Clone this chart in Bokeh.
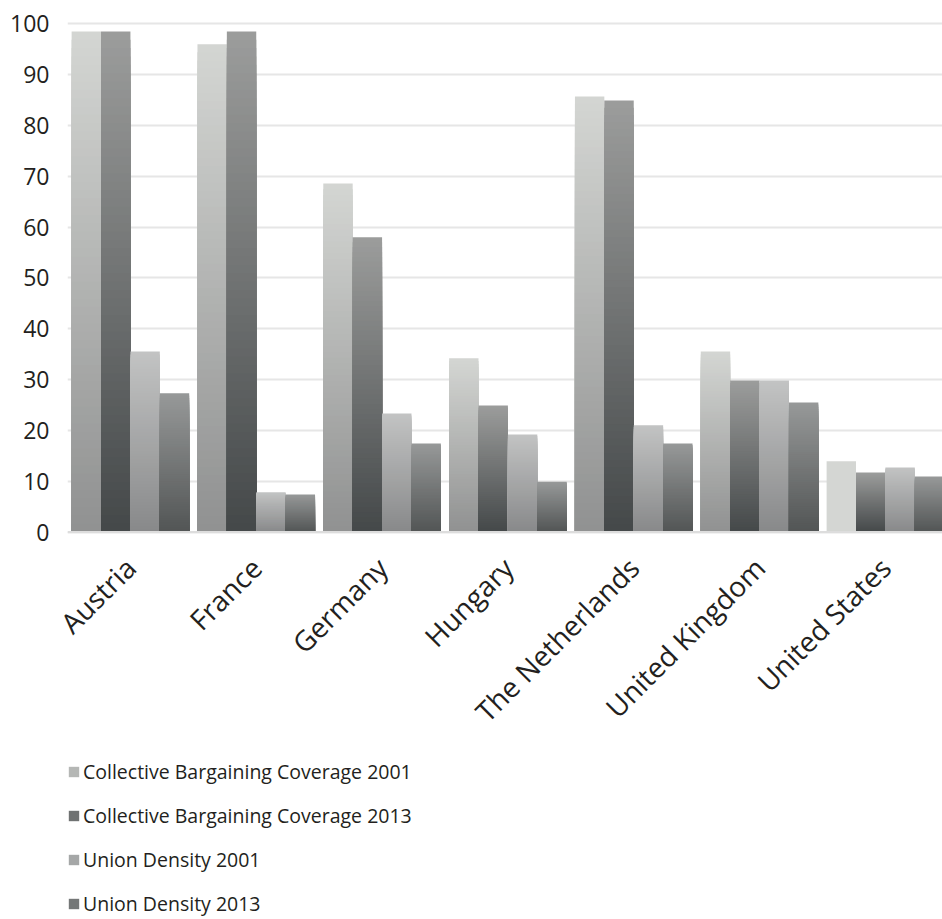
import numpy as np
from bokeh.plotting import figure
from bokeh.layouts import column
from bokeh.models import ColumnDataSource, FixedTicker, Range1d, Span, Legend, LegendItem
from bokeh.embed import file_html
from bokeh.resources import INLINE

# ---------------- data ----------------
countries = ["Austria", "France", "Germany", "Hungary", "The Netherlands",
             "United Kingdom", "United States"]
series_names = ["Collective Bargaining Coverage 2001",
                "Collective Bargaining Coverage 2013",
                "Union Density 2001",
                "Union Density 2013"]
cbc_2001 = [98.5, 96.0, 68.6, 34.2, 85.7, 35.5, 13.9]
cbc_2013 = [98.5, 98.5, 58.0, 24.9, 84.9, 29.8, 11.7]
ud_2001 = [35.5, 7.8, 23.3, 19.2, 21.0, 29.8, 12.7]
ud_2013 = [27.3, 7.4, 17.4, 9.9, 17.4, 25.5, 10.9]
y_ticks = [0, 10, 20, 30, 40, 50, 60, 70, 80, 90, 100]

series_values = [cbc_2001, cbc_2013, ud_2001, ud_2013]

# ---------------- style ----------------
top_colors = [(212, 214, 211), (156, 157, 156), (194, 195, 195), (151, 153, 153)]
bottom_colors = [(144, 145, 145), (68, 72, 73), (136, 137, 138), (82, 85, 85)]
flat_bars = {(0, "United States"): "#d4d6d3"}
legend_colors = ["#b5b7b5", "#6f7272", "#a5a7a7", "#747777"]

FONT = "Open Sans"
TXT = "#231f20"
N = 60
bar_w = 0.2336
offsets = [-1.5 * bar_w, -0.5 * bar_w, 0.5 * bar_w, 1.5 * bar_w]

x_left = -0.5
x_right = x_left + 875 / 125.83

TOP_H = 745
p = figure(width=942, height=TOP_H, output_backend="svg", toolbar_location=None,
           x_range=Range1d(x_left, x_right), y_range=Range1d(-0.49, 100.65),
           min_border_left=67, min_border_right=0, min_border_top=20,
           min_border_bottom=TOP_H - 534)
p.outline_line_color = None
p.background_fill_color = "white"
p.border_fill_color = "white"
p.xgrid.grid_line_color = None
p.ygrid.grid_line_color = "#e6e6e6"
p.ygrid.grid_line_width = 2
p.ygrid.ticker = FixedTicker(ticks=y_ticks)


def lerp(c1, c2, t):
    return "#%02x%02x%02x" % tuple(int(round(a + (b - a) * t)) for a, b in zip(c1, c2))


for j, vals in enumerate(series_values):
    xs, tops, cols = [], [], []
    for i, v in enumerate(vals):
        xc = i + offsets[j]
        if (j, countries[i]) in flat_bars:
            xs.append(xc); tops.append(v); cols.append(flat_bars[(j, countries[i])])
            continue
        for k in range(N):
            f = 1 - k / N
            t = f - 0.5 / N
            xs.append(xc); tops.append(v * f); cols.append(lerp(bottom_colors[j], top_colors[j], t))
    src = ColumnDataSource(dict(x=xs, top=tops, color=cols))
    p.vbar(x="x", top="top", bottom=0, width=bar_w, fill_color="color",
           line_color=None, source=src)

p.add_layout(Span(location=0, dimension="width", line_color="#dddddd", line_width=2))

# axes
p.yaxis.ticker = FixedTicker(ticks=y_ticks)
p.yaxis.axis_line_color = None
p.yaxis.major_tick_line_color = None
p.yaxis.minor_tick_line_color = None
p.yaxis.major_label_standoff = 12
p.yaxis.major_label_text_font = FONT
p.yaxis.major_label_text_font_size = "23px"
p.yaxis.major_label_text_color = TXT

p.xaxis.ticker = FixedTicker(ticks=list(range(len(countries))))
p.xaxis.major_label_overrides = {i: c for i, c in enumerate(countries)}
p.xaxis.major_label_orientation = np.pi / 4
p.xaxis.axis_line_color = None
p.xaxis.major_tick_line_color = None
p.xaxis.minor_tick_line_color = None
p.xaxis.major_label_standoff = 22
p.xaxis.major_label_text_font = FONT
p.xaxis.major_label_text_font_size = "28px"
p.xaxis.major_label_text_color = TXT

# ---------------- legend figure ----------------
LEG_H = 919 - TOP_H
p2 = figure(width=942, height=LEG_H, output_backend="svg", toolbar_location=None,
            x_range=Range1d(0, 1), y_range=Range1d(0, 1),
            x_axis_location=None, y_axis_location=None,
            min_border_left=0, min_border_right=0, min_border_top=0, min_border_bottom=0)
p2.grid.grid_line_color = None
p2.outline_line_color = None

# zero-size proxy glyphs that only carry the legend colours
leg_r = []
for j in range(4):
    lr = p2.vbar(x=[0.5], top=[0.5], bottom=[0.5], width=0.0,
                 fill_color=legend_colors[j], line_color=None)
    leg_r.append(lr)

item_h = 26
spacing = 17
first_center = 775 - TOP_H
leg_top = first_center - item_h / 2
leg_height = 4 * item_h + 3 * spacing
legend = Legend(items=[LegendItem(label=series_names[j], renderers=[leg_r[j]]) for j in range(4)],
                location=(0, LEG_H - (leg_top + leg_height)), orientation="vertical")
legend.glyph_width = 13
legend.glyph_height = 13
legend.label_height = 24
legend.spacing = spacing
legend.padding = 0
legend.margin = 0
legend.label_standoff = 3
legend.border_line_color = None
legend.background_fill_alpha = 0
legend.label_text_font = FONT
legend.label_text_font_size = "19.5px"
legend.label_text_color = TXT
p2.add_layout(legend)

open("out.html", "w").write(file_html(column(p, p2, spacing=0), INLINE))
